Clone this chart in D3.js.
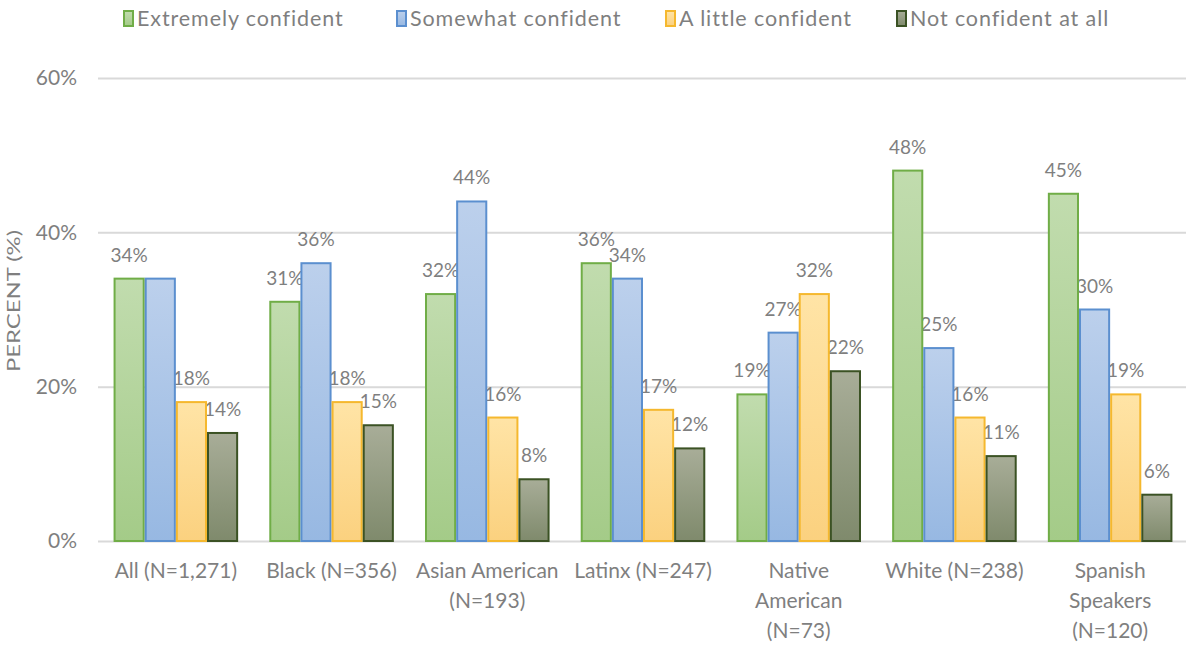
<!DOCTYPE html>
<html>
<head>
<meta charset="utf-8">
<script src="https://cdn.jsdelivr.net/npm/d3@7"></script>
<style>
  html, body { margin: 0; padding: 0; background: #fff; }
  svg { display: block; font-family: Lato, "Open Sans", sans-serif; }
</style>
</head>
<body>
<svg id="chart" width="1186" height="650"></svg>
<script>
// Confidence levels by group (percent of respondents)
const categories = [
  ["All (N=1,271)"],
  ["Black (N=356)"],
  ["Asian American", "(N=193)"],
  ["Latinx (N=247)"],
  ["Native", "American", "(N=73)"],
  ["White (N=238)"],
  ["Spanish", "Speakers", "(N=120)"]
];
const seriesNames = ["Extremely confident", "Somewhat confident", "A little confident", "Not confident at all"];
const extremely = [34, 31, 32, 36, 19, 48, 45];
const somewhat  = [34, 36, 44, 34, 27, 25, 30];
const little    = [18, 18, 16, 17, 32, 16, 19];
const notAtAll  = [14, 15, 8, 12, 22, 11, 6];
const yTicks = [0, 20, 40, 60];

const seriesValues = [extremely, somewhat, little, notAtAll];
const palette = [
  { stroke: "#70ad47", top: "#c1dcae", bottom: "#a4cb88" },
  { stroke: "#5b8fcf", top: "#bcd0ec", bottom: "#97b8e2" },
  { stroke: "#f5b82e", top: "#ffe4a6", bottom: "#fbd17f" },
  { stroke: "#3b5224", top: "#a8ad98", bottom: "#7f8a6c" }
];
const textColor = "#7f7f7f";
const gridColor = "#d9d9d9";

const svg = d3.select("#chart");
const defs = svg.append("defs");
palette.forEach((p, i) => {
  const g = defs.append("linearGradient").attr("id", "grad" + i)
    .attr("x1", 0).attr("y1", 0).attr("x2", 0).attr("y2", 1);
  g.append("stop").attr("offset", "0%").attr("stop-color", p.top);
  g.append("stop").attr("offset", "100%").attr("stop-color", p.bottom);
});

const x0 = d3.scaleBand().domain(d3.range(categories.length))
  .range([98, 1188]).paddingInner(0.2).paddingOuter(0.1);
const x1 = d3.scaleBand().domain(d3.range(seriesNames.length))
  .range([0, x0.bandwidth()]);
const y = d3.scaleLinear().domain([0, 60]).range([541, 78]);

// Gridlines and value axis labels
const yAxis = d3.axisLeft(y).tickValues(yTicks).tickSize(-1090)
  .tickFormat(d => d + "%").tickPadding(21);
const ya = svg.append("g").attr("transform", "translate(98,0)").call(yAxis);
ya.select(".domain").remove();
ya.selectAll(".tick line").attr("stroke", gridColor).attr("stroke-width", 2);
ya.selectAll(".tick text").attr("fill", textColor).attr("font-size", 21)
  .attr("font-family", "Lato, sans-serif");

// Axis title
svg.append("text")
  .attr("transform", "translate(20,301) rotate(-90)")
  .attr("text-anchor", "middle")
  .attr("fill", textColor).attr("font-size", 17)
  .attr("textLength", 142).attr("lengthAdjust", "spacingAndGlyphs")
  .text("PERCENT (%)");

const groups = svg.append("g").selectAll("g")
  .data(categories).join("g")
  .attr("transform", (d, i) => `translate(${x0(i)},0)`);

// Value labels sit beneath the bars; a label that would collide with
// the previous one in its group is left out.
groups.each(function (d, ci) {
  const g = d3.select(this);
  let prev = null;
  seriesValues.forEach((vals, si) => {
    const cx = x1(si) + x1.bandwidth() / 2;
    const ty = y(vals[ci]) - 17;
    const t = g.append("text")
      .attr("x", cx)
      .attr("y", ty)
      .attr("text-anchor", "middle")
      .attr("fill", textColor).attr("font-size", 19)
      .text(vals[ci] + "%");
    const w = t.node().getComputedTextLength();
    const box = { x0: cx - w / 2, x1: cx + w / 2, y: ty };
    if (prev && Math.abs(prev.y - box.y) < 12 && box.x0 < prev.x1) {
      t.remove();
    } else {
      prev = box;
    }
  });
});

groups.each(function (d, ci) {
  const g = d3.select(this);
  seriesValues.forEach((vals, si) => {
    g.append("rect")
      .attr("x", x1(si) + 1)
      .attr("y", y(vals[ci]))
      .attr("width", x1.bandwidth() - 2)
      .attr("height", y(0) - y(vals[ci]))
      .attr("fill", `url(#grad${si})`)
      .attr("stroke", palette[si].stroke)
      .attr("stroke-width", 2);
  });
});

// Category labels (multi-line)
const catLabels = svg.append("g").selectAll("text")
  .data(categories).join("text")
  .attr("x", (d, i) => x0(i) + x0.bandwidth() / 2)
  .attr("y", 578)
  .attr("text-anchor", "middle")
  .attr("fill", textColor).attr("font-size", 21);
catLabels.each(function (lines) {
  const t = d3.select(this);
  lines.forEach((line, k) => {
    t.append("tspan").attr("x", t.attr("x")).attr("dy", k === 0 ? 0 : 30).text(line);
  });
});

// Legend
const legendX = [123, 396, 665, 896];
const legend = svg.append("g").selectAll("g")
  .data(seriesNames).join("g")
  .attr("transform", (d, i) => `translate(${legendX[i]},9)`);
legend.append("rect")
  .attr("x", 1).attr("y", 2).attr("width", 9).attr("height", 15)
  .attr("fill", (d, i) => `url(#grad${i})`)
  .attr("stroke", (d, i) => palette[i].stroke).attr("stroke-width", 2);
legend.append("text")
  .attr("x", 14).attr("y", 17)
  .attr("fill", textColor).attr("font-size", 21.5)
  .attr("letter-spacing", 0.9)
  .text(d => d);
</script>
</body>
</html>
